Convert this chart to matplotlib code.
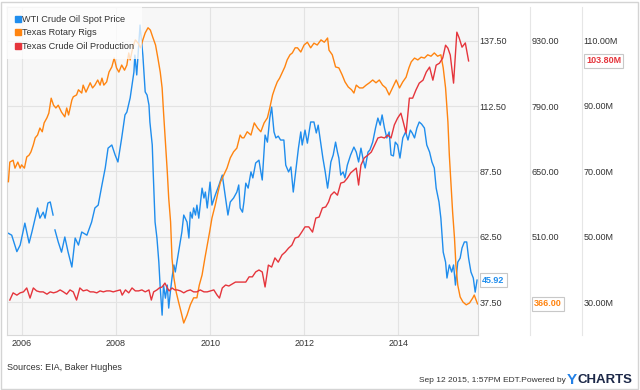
import numpy as np
import matplotlib
matplotlib.use("Agg")
import matplotlib.pyplot as plt
from matplotlib.patches import Rectangle
from matplotlib.lines import Line2D

plt.rcParams['font.family'] = ['Liberation Sans', 'DejaVu Sans']

# --- data (decimal years) ---
wti_x = [2005.71, 2005.78, 2005.89, 2005.96, 2006.06, 2006.15, 2006.21, 2006.28, 2006.33, 2006.38,
         2006.45, 2006.49, 2006.55, 2006.60, 2006.66, 2006.68,
         2006.70, 2006.77, 2006.84, 2006.91, 2006.98, 2007.06, 2007.13, 2007.20, 2007.27, 2007.38,
         2007.48, 2007.55, 2007.62, 2007.70, 2007.77, 2007.83, 2007.91, 2007.98, 2008.04, 2008.12,
         2008.19, 2008.23, 2008.30, 2008.38, 2008.40, 2008.44, 2008.51, 2008.57, 2008.62, 2008.66,
         2008.70, 2008.72, 2008.77, 2008.79, 2008.83, 2008.87, 2008.91, 2008.94, 2008.98, 2009.01,
         2009.05, 2009.09, 2009.12, 2009.16, 2009.19, 2009.23, 2009.26, 2009.33, 2009.40, 2009.44,
         2009.51, 2009.55, 2009.58, 2009.62, 2009.65, 2009.69, 2009.72, 2009.76, 2009.83, 2009.87,
         2009.90, 2009.94, 2010.00, 2010.04, 2010.11, 2010.19, 2010.26, 2010.29, 2010.33, 2010.38,
         2010.43, 2010.50, 2010.57, 2010.61, 2010.64, 2010.69, 2010.72, 2010.76, 2010.81, 2010.87,
         2010.91, 2010.97, 2011.04, 2011.08, 2011.11, 2011.17, 2011.22, 2011.27, 2011.31, 2011.36,
         2011.40, 2011.45, 2011.50, 2011.57, 2011.61, 2011.67, 2011.72, 2011.77, 2011.82, 2011.88,
         2011.93, 2011.96, 2012.02, 2012.07, 2012.14, 2012.21, 2012.26, 2012.30, 2012.36, 2012.40,
         2012.45, 2012.50, 2012.53, 2012.57, 2012.62, 2012.67, 2012.71, 2012.74, 2012.78, 2012.83,
         2012.87, 2012.92, 2012.99, 2013.06, 2013.11, 2013.16, 2013.21, 2013.26, 2013.30, 2013.36,
         2013.40, 2013.46, 2013.52, 2013.57, 2013.62, 2013.66, 2013.71, 2013.76, 2013.81, 2013.85,
         2013.90, 2013.94, 2013.99, 2014.04, 2014.10, 2014.16, 2014.21, 2014.26, 2014.30, 2014.35,
         2014.40, 2014.45, 2014.50, 2014.56, 2014.61, 2014.67, 2014.72, 2014.77, 2014.81, 2014.87,
         2014.91, 2014.96, 2015.01, 2015.04, 2015.09, 2015.14, 2015.18, 2015.22, 2015.27, 2015.32,
         2015.36, 2015.41, 2015.46, 2015.50, 2015.55, 2015.60, 2015.64, 2015.68]
wti_y = [63.8, 63.1, 56.8, 59.3, 67.7, 60.1, 64.3, 69.6, 73.5, 69.6,
         71.9, 69.6, 75.4, 75.8, 70.8, np.nan,
         65.1, 60.5, 56.6, 62.4, 56.6, 50.9, 62.0, 59.3, 64.3, 63.1,
         68.1, 73.5, 74.6, 82.3, 88.8, 96.4, 97.6, 93.8, 91.1, 100.3,
         109.1, 110.2, 115.6, 125.5, 132.0, 124.4, 143.5, 132.0, 117.9, 116.7,
         112.9, 106.4, 97.6, 87.3, 68.1, 62.0, 52.8, 42.9, 32.5, 44.0,
         39.0, 44.0, 35.2, 42.1, 46.7, 51.7, 49.0, 56.6, 64.3, 70.8,
         68.1, 62.0, 71.9, 69.6, 73.5, 70.8, 74.6, 69.6, 81.1, 77.3,
         79.6, 73.5, 83.4, 74.6, 78.4, 82.3, 86.1, 82.3, 77.3, 70.8,
         75.8, 77.3, 79.6, 82.3, 73.5, 71.9, 75.8, 83.0, 81.1, 87.3,
         85.0, 90.7, 91.8, 87.3, 84.2, 101.4, 98.7, 107.9, 112.1, 102.6,
         100.3, 101.0, 99.5, 99.5, 89.9, 87.3, 89.2, 79.6, 87.3, 96.4,
         102.6, 97.6, 103.3, 98.3, 106.4, 106.4, 102.2, 105.2, 97.6, 92.6,
         87.3, 81.1, 85.0, 91.1, 93.8, 98.7, 94.9, 92.6, 86.1, 87.3,
         85.0, 89.9, 93.8, 96.8, 94.9, 91.1, 96.4, 91.8, 88.8, 94.9,
         95.7, 98.7, 104.1, 107.9, 105.2, 109.1, 104.1, 100.3, 102.6, 93.8,
         93.4, 98.7, 97.6, 92.6, 100.3, 102.6, 99.5, 103.3, 102.2, 100.3,
         104.1, 106.4, 105.6, 104.1, 97.6, 94.9, 91.1, 88.8, 81.1, 75.8,
         69.6, 56.6, 52.8, 46.7, 51.7, 49.0, 51.7, 44.0, 52.8, 54.3,
         58.2, 60.5, 60.5, 54.3, 49.0, 46.7, 41.3, 45.92]

rig_x = [2005.71, 2005.74, 2005.81, 2005.85, 2005.91, 2005.96, 2005.99, 2006.05, 2006.10, 2006.15,
         2006.19, 2006.24, 2006.28, 2006.33, 2006.38, 2006.43, 2006.47, 2006.53, 2006.57, 2006.62,
         2006.67, 2006.72, 2006.77, 2006.84, 2006.91, 2006.95, 2006.99, 2007.06, 2007.09, 2007.16,
         2007.20, 2007.27, 2007.30, 2007.36, 2007.41, 2007.45, 2007.50, 2007.55, 2007.61, 2007.66,
         2007.70, 2007.74, 2007.80, 2007.85, 2007.91, 2007.96, 2008.01, 2008.06, 2008.12, 2008.18,
         2008.23, 2008.27, 2008.30, 2008.36, 2008.41, 2008.47, 2008.52, 2008.57, 2008.62, 2008.68,
         2008.73, 2008.78, 2008.84, 2008.89, 2008.94, 2008.98, 2009.01, 2009.05, 2009.09, 2009.12,
         2009.16, 2009.19, 2009.23, 2009.28, 2009.33, 2009.39, 2009.44, 2009.51, 2009.58, 2009.65,
         2009.72, 2009.77, 2009.83, 2009.89, 2009.94, 2009.99, 2010.04, 2010.11, 2010.17, 2010.22,
         2010.29, 2010.36, 2010.43, 2010.50, 2010.57, 2010.64, 2010.68, 2010.72, 2010.79, 2010.87,
         2010.94, 2011.01, 2011.08, 2011.15, 2011.22, 2011.27, 2011.33, 2011.38, 2011.43, 2011.48,
         2011.54, 2011.59, 2011.64, 2011.70, 2011.75, 2011.81, 2011.86, 2011.93, 2012.00, 2012.07,
         2012.14, 2012.21, 2012.28, 2012.36, 2012.43, 2012.50, 2012.53, 2012.60, 2012.67, 2012.74,
         2012.81, 2012.87, 2012.94, 2013.01, 2013.06, 2013.11, 2013.18, 2013.25, 2013.32, 2013.39,
         2013.46, 2013.53, 2013.60, 2013.67, 2013.74, 2013.81, 2013.89, 2013.96, 2014.03, 2014.10,
         2014.17, 2014.23, 2014.28, 2014.35, 2014.42, 2014.49, 2014.56, 2014.63, 2014.70, 2014.77,
         2014.84, 2014.91, 2014.96, 2015.01, 2015.06, 2015.09, 2015.13, 2015.16, 2015.20, 2015.23,
         2015.27, 2015.32, 2015.38, 2015.45, 2015.52, 2015.59, 2015.62, 2015.66, 2015.69]
rig_y = [628, 670, 674, 657, 670, 657, 664, 657, 681, 685,
         692, 707, 722, 728, 743, 735, 754, 765, 775, 807,
         792, 786, 792, 777, 767, 786, 771, 803, 810, 814,
         825, 818, 835, 820, 831, 840, 829, 835, 846, 835,
         850, 835, 842, 863, 874, 893, 872, 863, 878, 867,
         878, 904, 889, 917, 932, 925, 915, 932, 947, 958,
         953, 938, 921, 893, 863, 829, 777, 713, 649, 593,
         542, 464, 422, 391, 370, 346, 325, 342, 364, 379,
         379, 406, 428, 464, 492, 520, 550, 578, 606, 627,
         642, 657, 679, 692, 700, 728, 722, 722, 735, 728,
         754, 743, 735, 754, 765, 786, 814, 829, 842, 850,
         863, 874, 889, 900, 904, 915, 915, 906, 921, 927,
         915, 925, 921, 932, 927, 936, 910, 900, 874, 872,
         857, 842, 831, 825, 818, 835, 829, 829, 835, 840,
         846, 840, 846, 835, 829, 814, 831, 846, 829, 842,
         852, 872, 885, 893, 889, 895, 893, 900, 897, 904,
         897, 900, 872, 829, 756, 685, 614, 563, 507, 449,
         406, 381, 370, 364, 368, 379, 385, 374, 366]

prod_x = [2005.74, 2005.81, 2005.89, 2005.96, 2006.03, 2006.10, 2006.17, 2006.24, 2006.31, 2006.38,
          2006.45, 2006.53, 2006.60, 2006.67, 2006.74, 2006.81, 2006.88, 2006.95, 2007.02, 2007.09,
          2007.16, 2007.23, 2007.30, 2007.38, 2007.45, 2007.52, 2007.59, 2007.66, 2007.73, 2007.80,
          2007.87, 2007.94, 2008.01, 2008.09, 2008.13, 2008.20, 2008.27, 2008.34, 2008.41, 2008.48,
          2008.55, 2008.62, 2008.70, 2008.75, 2008.80, 2008.87, 2008.92, 2008.98, 2009.04, 2009.09,
          2009.13, 2009.19, 2009.25, 2009.30, 2009.37, 2009.44, 2009.51, 2009.58, 2009.65, 2009.72,
          2009.79, 2009.87, 2009.94, 2010.01, 2010.08, 2010.15, 2010.20, 2010.26, 2010.33, 2010.40,
          2010.47, 2010.54, 2010.61, 2010.69, 2010.76, 2010.83, 2010.90, 2010.97, 2011.04, 2011.11,
          2011.17, 2011.24, 2011.31, 2011.38, 2011.45, 2011.53, 2011.60, 2011.67, 2011.74, 2011.81,
          2011.88, 2011.95, 2012.02, 2012.10, 2012.18, 2012.25, 2012.32, 2012.39, 2012.46, 2012.52,
          2012.57, 2012.64, 2012.71, 2012.78, 2012.85, 2012.92, 2012.99, 2013.06, 2013.11, 2013.16,
          2013.21, 2013.28, 2013.36, 2013.43, 2013.50, 2013.57, 2013.64, 2013.71, 2013.78, 2013.85,
          2013.92, 2013.99, 2014.06, 2014.11, 2014.17, 2014.24, 2014.31, 2014.38, 2014.45, 2014.53,
          2014.60, 2014.67, 2014.74, 2014.81, 2014.88, 2014.95, 2015.01, 2015.06, 2015.11, 2015.18,
          2015.25, 2015.30, 2015.36, 2015.43, 2015.50]
prod_y = [30.6, 32.8, 32.1, 32.8, 33.1, 34.3, 31.2, 34.3, 33.4, 33.1,
          33.1, 32.4, 33.1, 32.8, 33.1, 33.7, 33.1, 32.4, 33.7, 33.1,
          30.6, 34.3, 33.4, 33.7, 33.1, 33.1, 32.8, 33.4, 33.1, 33.4,
          33.4, 33.1, 33.4, 33.7, 32.1, 33.7, 32.8, 34.3, 33.4, 33.4,
          33.7, 33.1, 33.7, 30.6, 33.1, 33.7, 34.3, 34.6, 35.8, 34.3,
          33.4, 34.3, 33.7, 33.7, 33.4, 32.8, 33.4, 33.7, 33.1, 33.1,
          33.7, 33.1, 33.1, 33.4, 33.7, 32.1, 31.2, 34.3, 35.2, 34.9,
          35.5, 36.1, 36.1, 36.1, 36.1, 37.7, 37.7, 39.2, 39.8, 39.2,
          34.6, 41.3, 40.7, 43.5, 42.2, 44.4, 45.3, 46.5, 47.4, 49.6,
          49.9, 51.4, 53.0, 53.0, 51.4, 55.7, 56.0, 58.8, 59.1, 60.6,
          62.7, 63.7, 62.7, 66.4, 66.7, 67.9, 69.5, 70.4, 71.0, 65.8,
          71.9, 74.1, 75.0, 75.9, 78.0, 80.2, 80.5, 80.2, 81.1, 80.2,
          84.2, 86.3, 87.8, 85.1, 81.7, 92.4, 92.4, 94.9, 97.0, 97.9,
          100.4, 101.9, 97.9, 102.5, 103.1, 104.7, 108.6, 107.7, 105.6, 97.0,
          112.6, 110.8, 108.0, 109.3, 103.8]

wti_ticks = [37.5, 62.5, 87.5, 112.5, 137.5]
rig_ticks = [510, 650, 790, 930]
prod_ticks = [30, 50, 70, 90, 110]
year_ticks = [2006, 2008, 2010, 2012, 2014]

blue = '#1f8ded'
orange = '#ff8410'
red = '#e5353c'
grid_c = '#e3e3e3'
txt_c = '#333333'
FS = 6.5

fig = plt.figure(figsize=(6.4, 3.9), dpi=100)
fig.patches.append(Rectangle((0.002, 0.003), 0.995, 0.993, transform=fig.transFigure,
                             fill=False, edgecolor='#d4d4d4', lw=1))

ax = fig.add_axes([7 / 640, 55 / 390, 471 / 640, 328 / 390])
ax.set_facecolor('#f7f7f7')
ax.plot(wti_x, wti_y, color=blue, lw=1.0)
ax.set_xlim(2005.68, 2015.70)
ax.set_ylim(24.9, 150.4)
ax.set_xticks(year_ticks)
ax.set_xticklabels([str(y) for y in year_ticks])
ax.grid(True, color=grid_c, lw=0.8)
ax.set_axisbelow(True)

ax2 = ax.twinx()
ax2.plot(rig_x, rig_y, color=orange, lw=1.0)
ax2.set_ylim(299.3, 1002.5)
ax2.set_yticks(rig_ticks)
ax2.set_yticklabels(['%.2f' % v for v in rig_ticks])

ax3 = ax.twinx()
ax3.plot(prod_x, prod_y, color=red, lw=1.0)
ax3.set_ylim(19.9, 120.3)
ax3.set_yticks(prod_ticks)
ax3.set_yticklabels(['%.2fM' % v for v in prod_ticks])

# wti ticks on the right side too (twinx moved them left)
ax.yaxis.tick_right()
ax.set_yticks(wti_ticks)
ax.set_yticklabels(['%.2f' % v for v in wti_ticks])
ax.tick_params(length=0, labelsize=FS, labelcolor=txt_c)
ax.tick_params(axis='y', pad=1.2)
ax.tick_params(axis='x', pad=3)
for s in ax.spines.values():
    s.set_color('#d8d8d8')
    s.set_linewidth(0.8)

for a, off in ((ax2, 52 * 0.72), (ax3, 104 * 0.72)):
    for k in ('top', 'bottom', 'left'):
        a.spines[k].set_visible(False)
    a.spines['right'].set_position(('outward', off))
    a.spines['right'].set_color('#e6e6e6')
    a.tick_params(length=0, labelsize=FS, labelcolor=txt_c, pad=1)

# last value labels
box = dict(boxstyle='square,pad=0.25', fc='white', ec='#c8c8c8', lw=0.8)
ax.annotate('45.92', xy=(1, wti_y[-1]), xycoords=('axes fraction', 'data'),
            xytext=(4, 0), textcoords='offset pixels', va='center', ha='left',
            fontsize=FS, fontweight='bold', color=blue, bbox=box)
ax2.annotate('366.00', xy=(1, rig_y[-1]), xycoords=('axes fraction', 'data'),
             xytext=(56, 0), textcoords='offset pixels', va='center', ha='left',
             fontsize=FS, fontweight='bold', color=orange, bbox=box)
ax3.annotate('103.80M', xy=(1, prod_y[-1]), xycoords=('axes fraction', 'data'),
             xytext=(108, 0), textcoords='offset pixels', va='center', ha='left',
             fontsize=FS, fontweight='bold', color=red, bbox=box)

# legend with square markers
handles = [Line2D([], [], ls='none', marker='s', ms=4.5, color=c) for c in (blue, orange, red)]
labels = ['WTI Crude Oil Spot Price', 'Texas Rotary Rigs', 'Texas Crude Oil Production']
leg = ax3.legend(handles, labels, loc='upper left', bbox_to_anchor=(0, 1), borderaxespad=0,
                 frameon=True, fontsize=6.6, handlelength=0.6, handletextpad=0.15,
                 labelspacing=0.5, borderpad=0.85, fancybox=False)
leg.get_frame().set_facecolor('white')
leg.get_frame().set_alpha(0.75)
leg.get_frame().set_edgecolor('none')
for t in leg.get_texts():
    t.set_color(txt_c)

fig.text(7 / 640, 1 - 367 / 390, 'Sources: EIA, Baker Hughes', fontsize=FS, color=txt_c,
         va='center', ha='left')
fig.text(566 / 640, 1 - 381 / 390, 'Sep 12 2015, 1:57PM EDT.Powered by', fontsize=6,
         color=txt_c, va='center', ha='right')
fig.text(567 / 640, 1 - 380 / 390, 'Y', fontsize=11, fontweight='bold', color='#2280e6',
         va='center', ha='left')
fig.text(578 / 640, 1 - 380 / 390, 'CHARTS', fontsize=9.5, fontweight='bold', color='#1c2848',
         va='center', ha='left')

fig.savefig('out.png', dpi=100)
